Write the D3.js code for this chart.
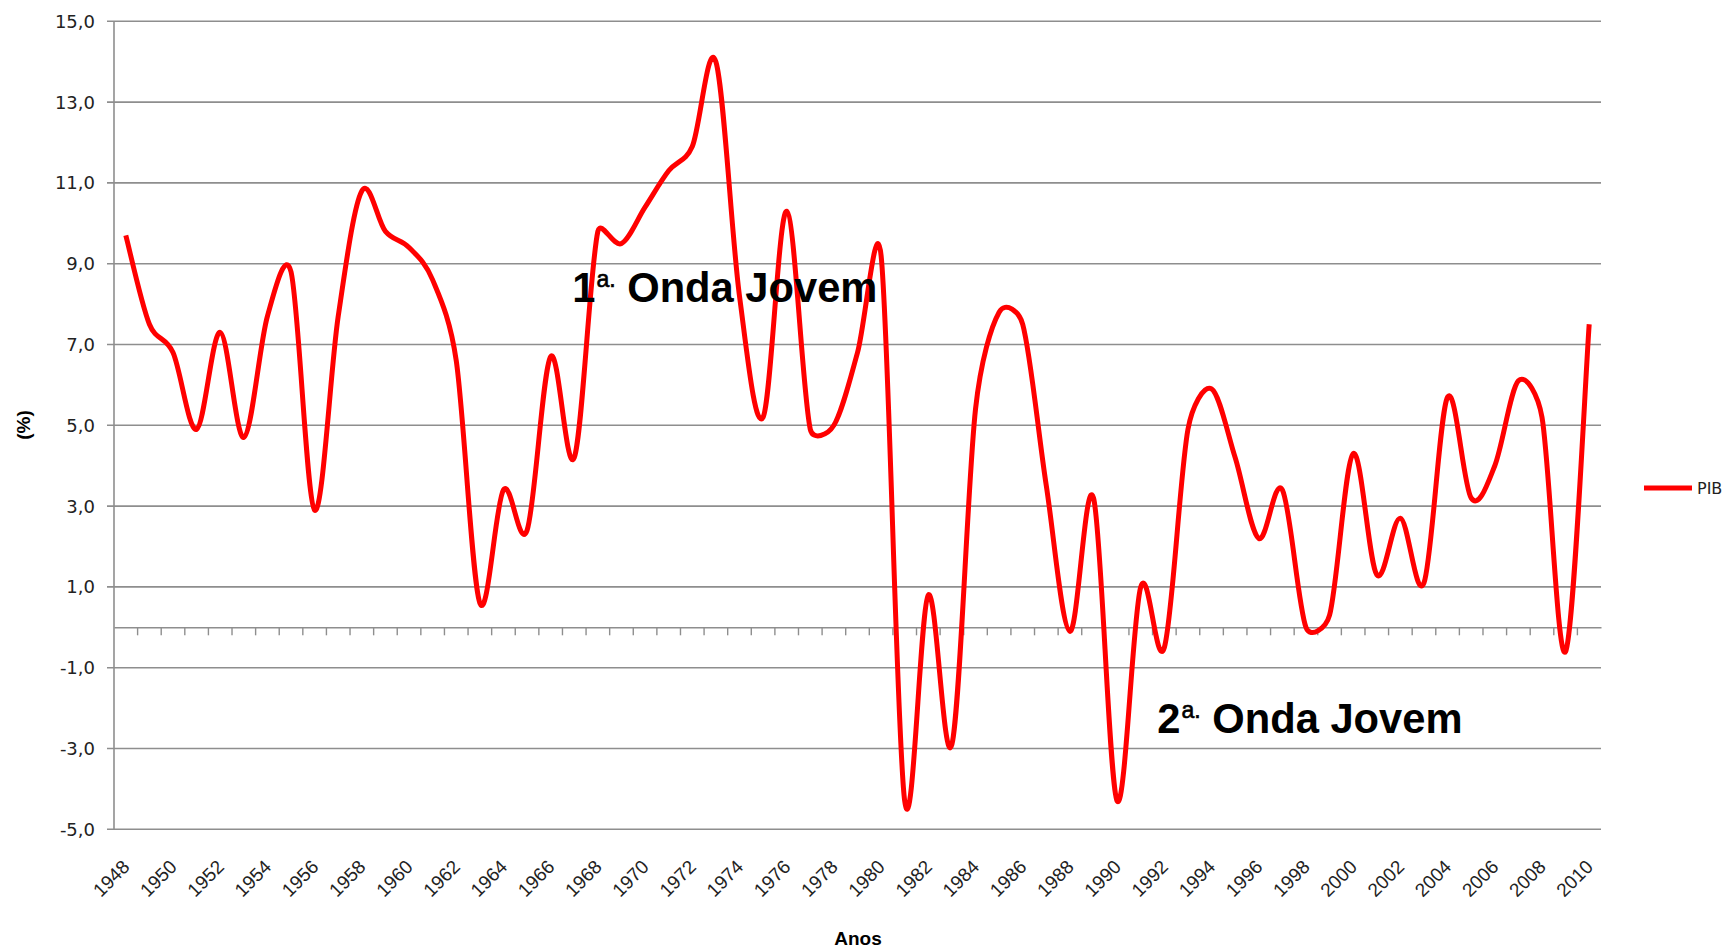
<!DOCTYPE html>
<html>
<head>
<meta charset="utf-8">
<script src="https://cdn.jsdelivr.net/npm/d3@7"></script>
<style>
    body { margin: 0; background: #ffffff; }
    svg { display: block; }
</style>
</head>
<body>
<div id="pibGraph"></div>
<script>
// Chart data
var years = ['1948','1949','1950','1951','1952','1953','1954','1955','1956','1957','1958','1959','1960','1961','1962','1963','1964','1965','1966','1967','1968','1969','1970','1971','1972','1973','1974','1975','1976','1977','1978','1979','1980','1981','1982','1983','1984','1985','1986','1987','1988','1989','1990','1991','1992','1993','1994','1995','1996','1997','1998','1999','2000','2001','2002','2003','2004','2005','2006','2007','2008','2009','2010'];
var pib = [9.7, 7.5, 6.8, 4.9, 7.3, 4.7, 7.7, 8.8, 2.9, 7.7, 10.8, 9.8, 9.4, 8.6, 6.6, 0.6, 3.4, 2.4, 6.7, 4.2, 9.8, 9.5, 10.4, 11.3, 11.9, 14.0, 8.2, 5.2, 10.3, 4.9, 5.0, 6.8, 9.2, -4.3, 0.8, -2.9, 5.4, 7.8, 7.5, 3.5, -0.1, 3.2, -4.3, 1.0, -0.5, 4.9, 5.9, 4.2, 2.2, 3.4, 0.0, 0.3, 4.3, 1.3, 2.7, 1.1, 5.7, 3.2, 4.0, 6.1, 5.2, -0.6, 7.5];
var yTicks = [-5, -3, -1, 1, 3, 5, 7, 9, 11, 13, 15];
var xLabels = years.filter(function(d, i) { return i % 2 === 0; });
var seriesName = 'PIB';
var yLabel = '(%)';
var xLabel = 'Anos';
var noteNums = ['1', '2'];
var noteSup = 'a.';
var noteText = ' Onda Jovem';

// Sizes
var width = 1729, height = 949;
var plot = {left: 114, right: 1601, top: 21.3, bottom: 829.3};

var svg = d3.select('#pibGraph')
    .append('svg')
    .attr('width', width)
    .attr('height', height);

// Set ranges
var x = d3.scaleBand().domain(years).range([plot.left, plot.right]).padding(0);
var y = d3.scaleLinear().domain([-5, 15]).range([plot.bottom, plot.top]);
function cx(d) { return x(d) + x.bandwidth() / 2; }

var fmt = d3.formatLocale({decimal: ',', thousands: '.', grouping: [3], currency: ['', ''], minus: '-'}).format('.1f');

// Gridlines
svg.append('g')
    .selectAll('line')
    .data(yTicks)
    .enter()
    .append('line')
        .attr('x1', plot.left - 7)
        .attr('x2', plot.right)
        .attr('y1', function(d) { return y(d); })
        .attr('y2', function(d) { return y(d); })
        .attr('stroke', '#8e8e8e')
        .attr('stroke-width', 1.6);

// Y axis line
svg.append('line')
    .attr('x1', plot.left).attr('x2', plot.left)
    .attr('y1', plot.top).attr('y2', plot.bottom)
    .attr('stroke', '#8e8e8e')
    .attr('stroke-width', 1.6);

// Y tick labels
svg.append('g')
    .selectAll('text')
    .data(yTicks)
    .enter()
    .append('text')
        .attr('x', 95)
        .attr('y', function(d) { return y(d); })
        .attr('dy', '0.36em')
        .attr('text-anchor', 'end')
        .style('font-family', 'DejaVu Sans, Verdana, sans-serif')
        .style('font-size', '18px')
        .style('fill', '#222')
        .text(function(d) { return fmt(d); });

// Category axis on zero line
var xAxis = d3.axisBottom(x).tickSize(8).tickSizeOuter(0).tickFormat('');
var xAxisG = svg.append('g')
    .attr('transform', 'translate(0,' + y(0) + ')')
    .call(xAxis);
xAxisG.select('.domain').attr('stroke', '#8e8e8e').attr('stroke-width', 1.6);
// move ticks to category boundaries
xAxisG.selectAll('.tick').attr('transform', function(d) { return 'translate(' + (x(d) + x.bandwidth()) + ',0)'; });
xAxisG.selectAll('.tick').filter(function(d, i) { return i === years.length - 1; }).remove();
xAxisG.selectAll('.tick line').attr('stroke', '#8e8e8e').attr('stroke-width', 1.4);

// X tick labels
svg.append('g')
    .selectAll('text')
    .data(xLabels)
    .enter()
    .append('text')
        .attr('transform', function(d) { return 'translate(' + (cx(d) + 5) + ',' + 868 + ') rotate(-45)'; })
        .attr('text-anchor', 'end')
        .style('font-family', 'Liberation Sans, Arial, sans-serif')
        .style('font-size', '19px')
        .style('fill', '#222')
        .text(function(d) { return d; });

// Smoothed line, spreadsheet style: Catmull-Rom bezier with control arms
// capped at half the segment length
function smoothCurve(context) {
    var pts = [];
    return {
        areaStart: function() {},
        areaEnd: function() {},
        lineStart: function() { pts = []; },
        point: function(px, py) { pts.push([+px, +py]); },
        lineEnd: function() {
            var n = pts.length;
            if (!n) return;
            context.moveTo(pts[0][0], pts[0][1]);
            for (var i = 0; i < n - 1; i++) {
                var p0 = pts[Math.max(i - 1, 0)], p1 = pts[i], p2 = pts[i + 1], p3 = pts[Math.min(i + 2, n - 1)];
                var d12 = Math.hypot(p2[0] - p1[0], p2[1] - p1[1]);
                var d02 = Math.hypot(p2[0] - p0[0], p2[1] - p0[1]);
                var d13 = Math.hypot(p3[0] - p1[0], p3[1] - p1[1]);
                var f1 = (d02 / 6 < d12 / 2) ? 1 / 6 : (d12 / 2) / d02;
                var f2 = (d13 / 6 < d12 / 2) ? 1 / 6 : (d12 / 2) / d13;
                context.bezierCurveTo(
                    p1[0] + (p2[0] - p0[0]) * f1, p1[1] + (p2[1] - p0[1]) * f1,
                    p2[0] - (p3[0] - p1[0]) * f2, p2[1] - (p3[1] - p1[1]) * f2,
                    p2[0], p2[1]);
            }
        }
    };
}

var line = d3.line()
    .curve(smoothCurve)
    .x(function(d, i) { return cx(years[i]); })
    .y(function(d) { return y(d); });

svg.append('path')
    .datum(pib)
    .attr('fill', 'none')
    .attr('stroke', '#ff0000')
    .attr('stroke-width', 5)
    .attr('stroke-linejoin', 'round')
    .attr('d', line);

// Annotations
var notePos = [
    {x: cx('1967') - 2, y: y(8.05)},
    {x: cx('1992') - 7, y: y(-2.62)}
];
noteNums.forEach(function(num, i) {
    var t = svg.append('text')
        .attr('x', notePos[i].x)
        .attr('y', notePos[i].y)
        .style('font-family', 'Liberation Sans, Arial, sans-serif')
        .style('font-weight', 'bold')
        .style('font-size', '41.7px')
        .style('fill', '#000');
    t.append('tspan').text(num);
    t.append('tspan').attr('dx', 1).attr('dy', -15).style('font-size', '23px').style('font-weight', 'normal').style('stroke', '#000').style('stroke-width', 0.6).text(noteSup);
    t.append('tspan').attr('dy', 15).text(noteText);
});

// Axis labels
svg.append('text')
    .attr('transform', 'translate(30,425) rotate(-90)')
    .attr('text-anchor', 'middle')
    .style('font-family', 'Liberation Sans, Arial, sans-serif')
    .style('font-weight', 'bold')
    .style('font-size', '19px')
    .text(yLabel);

svg.append('text')
    .attr('x', 858)
    .attr('y', 945)
    .attr('text-anchor', 'middle')
    .style('font-family', 'Liberation Sans, Arial, sans-serif')
    .style('font-weight', 'bold')
    .style('font-size', '19px')
    .text(xLabel);

// Legend
svg.append('line')
    .attr('x1', 1644).attr('x2', 1692)
    .attr('y1', 488).attr('y2', 488)
    .attr('stroke', '#ff0000')
    .attr('stroke-width', 5);
svg.append('text')
    .attr('x', 1697)
    .attr('y', 494)
    .style('font-family', 'DejaVu Sans, Verdana, sans-serif')
    .style('font-size', '16px')
    .style('fill', '#222')
    .text(seriesName);
</script>
</body>
</html>
